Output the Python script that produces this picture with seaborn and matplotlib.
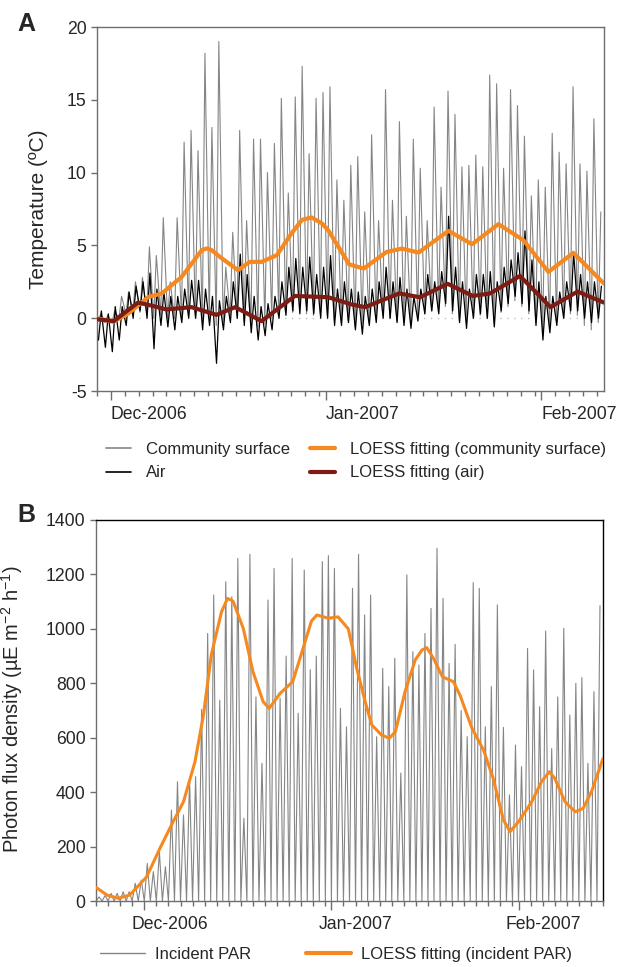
import numpy as np
import pandas as pd
import matplotlib
matplotlib.use("Agg")
import matplotlib.pyplot as plt
import matplotlib.dates as mdates
from matplotlib.lines import Line2D
from matplotlib.transforms import ScaledTranslation
import seaborn as sns

# ---------------------------------------------------------------- data
# Panel A: daily extremes, one entry per day from 29 Nov 2006 to 9 Feb 2007
SURF_START = "2006-11-29"
surf_max = [0.3, 0.2,
            0.5, 1.5, 1.8, 2.5, 2.8, 4.9, 4.3, 6.9, 2.5, 6.9,
            12.1, 12.9, 11.5, 18.2, 13.1, 19.0, 3.5, 5.9, 12.9, 6.7,
            12.3, 12.3, 10.0, 12.0, 15.1, 8.6, 15.2, 17.3, 11.3, 15.1, 15.5,
            15.9, 9.5, 8.1, 10.5, 11.1, 7.3, 12.6, 6.7, 15.7, 8.1,
            13.5, 7.0, 12.3, 10.3, 6.7, 14.5, 9.0, 15.6, 14.0, 10.4,
            10.5, 11.2, 10.4, 16.7, 16.1, 10.3, 15.7, 14.6, 12.5, 8.4, 9.5,
            9.0, 12.7, 11.4, 10.6, 15.9, 10.6, 10.1, 13.7, 7.3]
surf_min = [-0.2, -0.3,
            -0.3, 0.0, 0.3, 0.5, 0.4, 0.3, 0.0, 0.2, 0.0, 0.0,
            0.0, 0.2, 0.0, -0.2, 0.0, -0.5, -0.3, 0.2, 0.0, -0.2,
            -0.5, -0.6, -0.4, 0.0, 0.3, 0.5, 0.4, 0.5, 0.3, 0.2, 0.3,
            0.2, -0.2, -0.3, -0.2, -0.6, -0.4, -0.2, 0.0, 0.2, 0.0,
            -0.2, -0.3, -0.4, 0.0, 0.3, 0.5, 0.4, 0.8, 0.3, -0.2,
            -0.3, 0.0, 0.2, 0.0, -0.4, 0.4, 0.8, 1.2, 0.8, 0.3, -0.3,
            -0.8, -0.6, -0.3, 0.0, 0.3, 0.2, -0.5, -0.8, -0.3]
air_max = [0.5, 0.3,
           0.8, 0.8, 1.8, 2.2, 2.5, 3.1, 2.0, 1.8, 1.5, 1.5,
           2.0, 2.6, 2.6, 2.0, 1.5, 1.2, 1.5, 2.5, 4.4, 3.0,
           1.5, 0.8, 1.0, 1.5, 2.5, 3.5, 4.1, 3.5, 4.2, 3.0, 3.5,
           4.3, 2.0, 2.5, 2.0, 1.8, 1.5, 2.0, 2.5, 3.5, 2.5,
           2.8, 2.0, 1.5, 2.0, 3.0, 2.5, 3.2, 7.0, 3.5, 2.5,
           2.0, 3.0, 3.0, 3.2, 2.5, 3.5, 4.0, 4.5, 6.0, 4.0, 2.5,
           1.5, 1.5, 1.8, 2.5, 4.5, 3.0, 2.5, 2.5, 2.2]
air_min = [-1.5, -2.0,
           -2.3, -1.5, -0.5, 0.0, 0.5, 0.0, -2.1, -0.5, -0.6, -0.8,
           -0.3, 0.0, 0.0, -0.8, -0.5, -3.1, -0.8, -0.3, 0.0, -0.5,
           -1.0, -1.5, -1.2, -0.8, 0.0, 0.2, 0.5, 0.3, 0.5, 0.3, 0.0,
           0.0, -0.5, -0.5, -0.3, -0.8, -1.1, -0.5, -0.3, 0.0, 0.0,
           -0.3, -0.5, -0.7, -0.2, 0.3, 0.5, 0.3, 1.0, 0.5, -0.3,
           -0.7, 0.0, 0.3, 0.0, -0.6, 0.5, 1.0, 1.5, 1.0, 0.5, -0.5,
           -1.5, -1.0, -0.5, 0.0, 0.5, 0.5, 0.0, -0.3, 0.0]

# LOESS curves, days counted from 1 Dec 2006
loess_surf_day = [-2.0, 0.33, 2.5, 5.4, 7.3, 10.2, 13.1, 13.8, 14.5, 15.7, 18.3,
                  20.0, 21.7, 23.9, 26.0, 27.5, 28.9, 30.4, 31.3, 34.3, 36.4,
                  39.7, 41.9, 44.3, 48.6, 52.0, 55.8, 59.4, 63.0, 66.6, 71.0]
loess_surf_val = [0.0, -0.25, 0.32, 1.46, 1.69, 2.84, 4.68, 4.79, 4.68, 4.21, 3.30,
                  3.87, 3.87, 4.33, 5.82, 6.75, 6.92, 6.5, 6.04, 3.7, 3.41,
                  4.55, 4.78, 4.51, 6.0, 5.08, 6.46, 5.36, 3.18, 4.49, 2.38]
loess_air_day = [-2.0, 0.4, 1.5, 3.9, 6.0, 8.0, 11.6, 15.2, 17.9, 21.7, 26.5,
                 31.3, 34.6, 36.6, 41.5, 44.5, 48.5, 52.1, 54.6, 58.9, 63.3,
                 67.2, 71.0]
loess_air_val = [-0.07, -0.2, 0.2, 1.07, 0.85, 0.6, 0.76, 0.23, 0.76, -0.2, 1.53,
                 1.44, 0.95, 0.76, 1.7, 1.44, 2.36, 1.53, 1.7, 2.9, 0.76,
                 1.83, 1.07]

# Panel B: daily PAR maxima from 23 Nov 2006 to 14 Feb 2007
PAR_START = "2006-11-23"
par_peak = [15, 20, 28, 28, 34, 34, 65, 77,
            138, 108, 181, 126, 334, 438, 316, 450, 457, 704,
            983, 1124, 738, 1173, 1118, 1259, 304, 1274, 750, 506,
            1106, 1222, 745, 900, 1259, 690, 1216, 850, 900, 1247, 1269,
            1222, 708, 640, 1149, 1274, 1051, 1124, 604, 855, 788,
            892, 470, 1198, 916, 867, 983, 1075, 1296, 1112, 873,
            943, 700, 604, 1170, 1149, 640, 788, 1088, 638, 390, 573,
            494, 928, 849, 714, 992, 560, 750, 1002, 683, 800,
            821, 506, 769, 1085]
par_night = 0.0

loess_par_day = [-8.0, -6.2, -4.3, -2.4, 0.4, 2.6, 4.5, 6.5, 8.4, 9.8, 11.1,
                 12.8, 13.8, 14.7, 16.4, 18.0, 19.7, 20.7, 22.5, 24.6, 26.3,
                 27.7, 28.6, 30.5, 32.1, 33.8, 35.2, 36.6, 37.7, 39.3, 40.6,
                 41.6, 43.2, 44.9, 46.0, 46.8, 47.9, 49.4, 51.2, 52.3, 54.3,
                 56.2, 57.8, 59.5, 60.6, 62.0, 64.2, 65.8, 67.1, 68.0, 69.7,
                 71.4, 72.7, 74.1, 76.0]
loess_par_val = [50, 22, 10, 22, 89, 194, 279, 365, 512, 683, 904,
                 1063, 1112, 1102, 1002, 843, 732, 708, 763, 806, 928,
                 1029, 1051, 1039, 1044, 1000, 855, 732, 647, 610, 598,
                 622, 769, 886, 922, 931, 892, 824, 806, 757, 634,
                 555, 451, 298, 255, 291, 365, 438, 475, 451, 365,
                 328, 340, 402, 524]

REF_DAY = pd.Timestamp("2006-12-01")

# ---------------------------------------------------------------- helpers
def diurnal(start, lows, highs, low_hour, high_hour):
    days = pd.date_range(start, periods=len(highs), freq="D")
    lows = np.broadcast_to(np.asarray(lows, dtype=float), (len(highs),))
    t = np.column_stack([(days + pd.Timedelta(hours=low_hour)).values,
                         (days + pd.Timedelta(hours=high_hour)).values]).ravel()
    v = np.column_stack([lows, np.asarray(highs, dtype=float)]).ravel()
    return pd.DataFrame({"time": pd.DatetimeIndex(t), "value": v})


def curve(days, vals):
    return pd.DataFrame({"time": REF_DAY + pd.to_timedelta(days, unit="D"),
                         "value": vals})


surf_df = diurnal(SURF_START, surf_min, surf_max, 4, 13)
air_df = diurnal(SURF_START, air_min, air_max, 5, 15)
par_df = diurnal(PAR_START, par_night, par_peak, 0, 12)
ls_df = curve(loess_surf_day, loess_surf_val)
la_df = curve(loess_air_day, loess_air_val)
lp_df = curve(loess_par_day, loess_par_val)

# ---------------------------------------------------------------- style
sns.set_theme(style="ticks")
plt.rcParams["font.family"] = ["Liberation Sans", "DejaVu Sans"]
plt.rcParams["mathtext.fontset"] = "custom"
plt.rcParams["mathtext.rm"] = "Liberation Sans"
plt.rcParams["mathtext.it"] = "Liberation Sans:italic"
plt.rcParams["axes.unicode_minus"] = False

GRAY = "#858585"
ORANGE = "#f5891f"
DARKRED = "#7d1c14"
SPINE = "#6e6e6e"
FS_TICK = 12.7
FS_LEG = 12

fig = plt.figure(figsize=(6.27, 9.67), dpi=100)
W, H = 627, 967


def px_axes(l, t, r, b):
    return fig.add_axes([l / W, 1 - b / H, (r - l) / W, (b - t) / H])


def style_axes(ax, spine_top):
    for side in ("left", "bottom"):
        ax.spines[side].set_color(SPINE)
        ax.spines[side].set_linewidth(1.0)
    for side in ("top", "right"):
        ax.spines[side].set_visible(True)
        ax.spines[side].set_color(spine_top)
        ax.spines[side].set_linewidth(1.0)
    ax.xaxis.set_major_locator(mdates.MonthLocator())
    ax.xaxis.set_minor_locator(mdates.DayLocator(bymonthday=range(1, 32, 2)))
    ax.xaxis.set_major_formatter(mdates.DateFormatter("%b-%Y"))
    ax.tick_params(axis="x", which="major", direction="out", length=6.5,
                   width=1, color=SPINE, labelsize=FS_TICK, pad=4)
    ax.tick_params(axis="y", which="major", direction="out", length=4.5,
                   width=1, color=SPINE, labelsize=FS_TICK, pad=3)
    ax.tick_params(axis="x", which="minor", direction="out", length=3.5,
                   width=1, color=SPINE)
    ax.set_xlabel("")
    ax.grid(False)


# ---------------------------------------------------------------- panel A
axA = px_axes(97, 27, 604, 391)
axA.axhline(0, color="#bdbdbd", lw=1.0, ls=(0, (1, 4)), zorder=1)
sns.lineplot(data=surf_df, x="time", y="value", ax=axA, color=GRAY, lw=0.8,
             estimator=None, sort=False, zorder=2)
sns.lineplot(data=air_df, x="time", y="value", ax=axA, color="black", lw=0.9,
             estimator=None, sort=False, zorder=3)
sns.lineplot(data=ls_df, x="time", y="value", ax=axA, color=ORANGE, lw=3.0,
             estimator=None, sort=False, zorder=4)
sns.lineplot(data=la_df, x="time", y="value", ax=axA, color=DARKRED, lw=3.0,
             estimator=None, sort=False, zorder=5)
axA.set_xlim(pd.Timestamp("2006-11-29"), pd.Timestamp("2007-02-10"))
axA.set_ylim(-5, 20)
axA.set_yticks([-5, 0, 5, 10, 15, 20])
style_axes(axA, SPINE)
axA.set_ylabel("Temperature (ºC)", fontsize=15)
axA.yaxis.set_label_coords(-0.097, 0.5)
for lab in axA.get_xticklabels():
    lab.set_horizontalalignment("left")

hA = [Line2D([], [], color=GRAY, lw=1.2), Line2D([], [], color="black", lw=1.2),
      Line2D([], [], color=ORANGE, lw=3.0), Line2D([], [], color=DARKRED, lw=3.0)]
lA = ["Community surface", "Air",
      "LOESS fitting (community surface)", "LOESS fitting (air)"]
fig.legend(hA, lA, loc="upper left", bbox_to_anchor=(106 / W, 1 - 442 / H),
           ncol=2, frameon=False, fontsize=FS_LEG, handlelength=1.5,
           handletextpad=0.9, columnspacing=1.2, labelspacing=0.5,
           borderpad=0, borderaxespad=0)

# ---------------------------------------------------------------- panel B
axB = px_axes(96, 520, 603, 901)
sns.lineplot(data=par_df, x="time", y="value", ax=axB, color=GRAY, lw=0.8,
             estimator=None, sort=False, zorder=2)
sns.lineplot(data=lp_df, x="time", y="value", ax=axB, color=ORANGE, lw=2.2,
             estimator=None, sort=False, zorder=4)
axB.set_xlim(pd.Timestamp("2006-11-23"), pd.Timestamp("2007-02-15"))
axB.set_ylim(0, 1400)
axB.set_yticks(range(0, 1401, 200))
style_axes(axB, "black")
axB.set_ylabel("Photon flux density (µE m$^{-2}$ h$^{-1}$)", fontsize=14.5)
axB.yaxis.set_label_coords(-0.14, 0.504)
shift = ScaledTranslation(-13 / 100, 0, fig.dpi_scale_trans)
for lab in axB.get_xticklabels():
    lab.set_horizontalalignment("left")
    lab.set_transform(lab.get_transform() + shift)

hB = [Line2D([], [], color=GRAY, lw=1.0), Line2D([], [], color=ORANGE, lw=3.0)]
lB = ["Incident PAR", "LOESS fitting (incident PAR)"]
fig.legend(hB, lB, loc="upper left", bbox_to_anchor=(100 / W, 1 - 947 / H),
           ncol=2, frameon=False, fontsize=FS_LEG, handlelength=2.7,
           handletextpad=0.6, columnspacing=3.3, borderpad=0, borderaxespad=0)

# ---------------------------------------------------------------- panel letters
fig.text(17 / W, 1 - 12 / H, "A", fontsize=18, fontweight="bold", va="top")
fig.text(17 / W, 1 - 503 / H, "B", fontsize=18, fontweight="bold", va="top")

fig.savefig("out.png", dpi=100)
